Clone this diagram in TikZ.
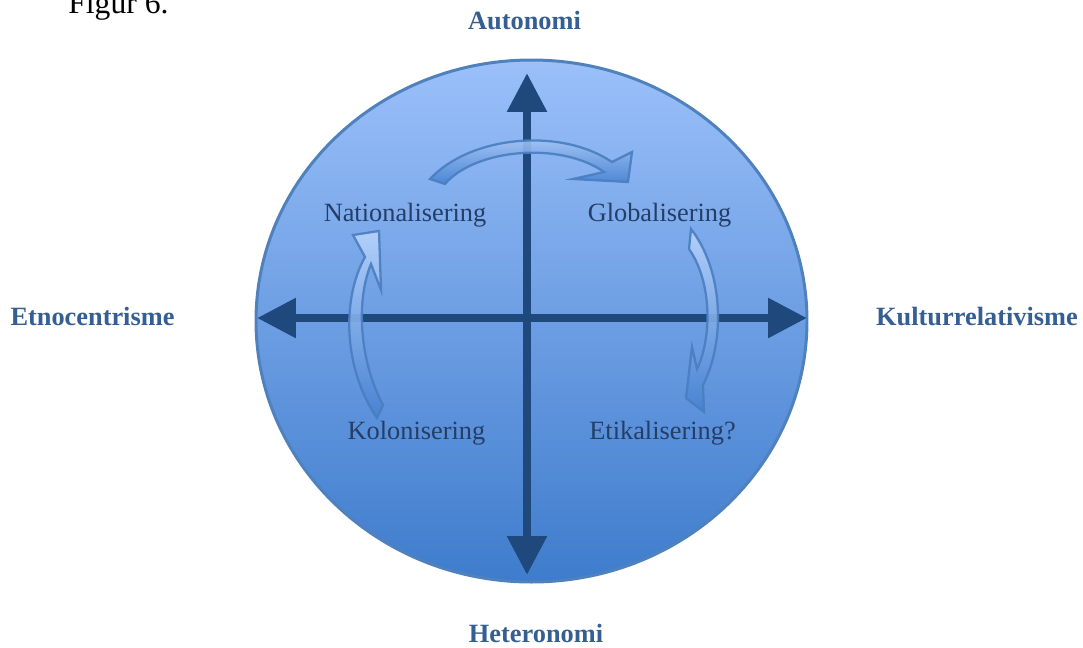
\documentclass[tikz,border=0pt]{standalone}
\usepackage{fontspec}
\setmainfont{Liberation Serif}
\usetikzlibrary{arrows.meta,positioning}
\definecolor{axisblue}{RGB}{31,73,125}
\definecolor{ringblue}{RGB}{79,129,189}
\definecolor{discTop}{RGB}{155,192,250}
\definecolor{discBottom}{RGB}{62,124,204}
\definecolor{poleText}{RGB}{54,95,145}
\definecolor{phaseText}{RGB}{36,62,104}
\definecolor{turnTop}{RGB}{185,212,252}
\definecolor{turnBottom}{RGB}{70,130,210}
\definecolor{turnEdge}{RGB}{74,126,192}
\tikzset{
    % Axis arrows
    axis/.style={line width=5pt,axisblue,{Triangle[length=0.78cm,width=0.76cm]}-{Triangle[length=0.78cm,width=0.76cm]}},
    % Outer pole labels
    pole/.style={font=\fontsize{15}{18}\selectfont\bfseries,text=poleText,inner sep=0pt,anchor=base},
    % Phase labels inside the disc
    phase/.style={font=\fontsize{15}{18}\selectfont,text=phaseText,inner sep=0pt,anchor=base},
    % Curved block arrows
    turn/.style={draw=turnEdge,line width=1.3pt,line join=miter,top color=turnTop,bottom color=turnBottom,opacity=0.9}
}

\begin{document}
\begin{tikzpicture}[x=0.02cm,y=-0.02cm]
    \useasboundingbox (0,0) rectangle (1083,647);
    \clip (0,0) rectangle (1083,647);

    \node[anchor=base west,inner sep=0pt,font=\fontsize{18}{22}\selectfont] (figlabel) at (68,13) {Figur 6.};

    % Disc
    \shade[top color=discTop,bottom color=discBottom,draw=ringblue,line width=1.7pt]
        (531.5,321) ellipse (275.5 and 261);

    % Axes
    \coordinate (west) at (257,318);
    \coordinate (east) at (807,318);
    \coordinate (north) at (527,73);
    \coordinate (south) at (527,575);
    \draw[axis] (west) -- (east);
    \draw[axis] (south) -- (north);

    % Turning arrows
    \path[turn] (430,179) .. controls (470,136) and (560,127) .. (612,162)
        -- (632,152) -- (628,182) -- (573,179) -- (604,172)
        .. controls (560,141) and (475,149) .. (445,184) -- cycle;
    \path[turn] (377,418) .. controls (344,370) and (341,300) .. (365,257)
        -- (353,235) -- (379,231) -- (381,290) -- (371,264)
        .. controls (356,300) and (359,360) .. (383,405) -- cycle;
    \path[turn] (691,229) .. controls (723,270) and (726,340) .. (703,385)
        -- (704,412) -- (686,398) -- (692,347) -- (697,369)
        .. controls (713,335) and (711,280) .. (689,249) -- cycle;

    % Poles
    \node[pole] (autonomi) at (524.5,29) {Autonomi};
    \node[pole] (heteronomi) at (536,642) {Heteronomi};
    \node[pole] (etno) at (92.5,325) {Etnocentrisme};
    \node[pole] (kultur) at (977,325) {Kulturrelativisme};

    % Phases
    \node[phase] (national) at (405,221) {Nationalisering};
    \node[phase] (global) at (659.5,221) {Globalisering};
    \node[phase] (kolonial) at (416.5,439) {Kolonisering};
    \node[phase] (etik) at (662.5,439) {Etikalisering?};
\end{tikzpicture}
\end{document}
